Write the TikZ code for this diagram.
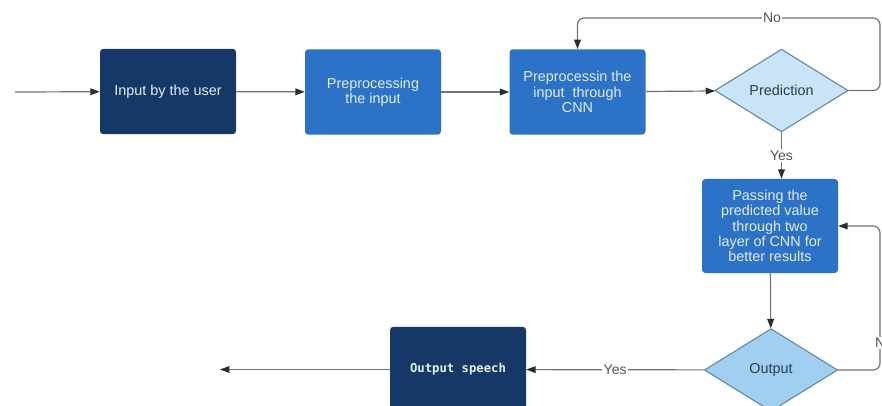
\documentclass[tikz,border=0pt]{standalone}
\usepackage{fontspec}
\setmainfont{Liberation Sans}
\newfontfamily\speechfont{DejaVu Sans Mono}
\usepackage{xcolor}
\usetikzlibrary{shapes.geometric,arrows.meta}

\definecolor{navy}{RGB}{22,56,102}
\definecolor{midblue}{RGB}{44,114,198}
\definecolor{paleblue}{RGB}{200,228,246}
\definecolor{skyblue}{RGB}{160,207,240}
\definecolor{edgeblue}{RGB}{92,135,170}
\definecolor{boxtext}{RGB}{228,236,246}
\definecolor{darktext}{RGB}{45,60,80}
\definecolor{linegray}{RGB}{115,115,115}
\definecolor{tipgray}{RGB}{45,45,45}
\definecolor{labelgray}{RGB}{85,85,85}

\begin{document}
\begin{tikzpicture}[x=0.75pt, y=-0.75pt,
    box/.style={rectangle, rounded corners=2.5pt, minimum width=102pt, minimum height=64pt,
        align=center, text=boxtext, inner sep=2pt, font=\fontsize{10.8}{11.4}\selectfont},
    darkbox/.style={box, fill=navy},
    bluebox/.style={box, fill=midblue},
    decision/.style={diamond, draw=edgeblue, line width=0.8pt, aspect=1.6, inner sep=0pt,
        minimum width=100pt, minimum height=62pt, text=darktext, font=\fontsize{10.8}{12}\selectfont},
    flow/.style={draw=linegray, line width=0.9pt, -{Triangle[length=7pt,width=5pt,color=tipgray]}},
    lbl/.style={fill=white, text=labelgray, inner sep=1pt, font=\fontsize{10.5}{12}\selectfont}]
    % page
    \path[fill=white, use as bounding box] (0,0) rectangle (882,406);
    % steps
    \node[darkbox] (user) at (168,91.5) {Input by the user};
    \node[bluebox] (prep) at (373,92) {Preprocessing\\the input};
    \node[bluebox] (cnn) at (577.5,92) {Preprocessin the\\input\ \ through\\CNN};
    \node[decision, fill=paleblue] (pred) at (781.5,90.5) {Prediction};
    \node[bluebox, minimum height=70.5pt] (pass) at (770,226)
        {Passing the\\predicted value\\through two\\layer of CNN for\\better results};
    \node[decision, fill=skyblue] (outd) at (771,370) {Output};
    \node[darkbox, font=\speechfont\bfseries\fontsize{9.2}{11}\selectfont] (speech) at (458,369.5) {Output speech};
    % free ends and bends
    \coordinate (start) at (15,92);
    \coordinate (finish) at (220,369.5);
    \coordinate (noup) at (880,18);
    \coordinate (noback) at (880,226);
    % connectors
    \draw[flow] (start) -- (user);
    \draw[flow] (user) -- (prep);
    \draw[flow] (prep) -- (cnn);
    \draw[flow] (cnn) -- (pred);
    \draw[flow, rounded corners=5pt] (pred.east) -| (noup) -| (cnn.north);
    \node[lbl] (noone) at (772,18) {No};
    \draw[flow] (pred.south) -- node[lbl] {Yes} (pred.south |- pass.north);
    \draw[flow] (pass) -- (outd);
    \draw[flow, rounded corners=5pt] (outd.east) -| (noback) -- (pass.east);
    \node[lbl] (notwo) at (884,343) {No};
    \draw[flow] (outd) -- node[lbl] {Yes} (speech);
    \draw[flow] (speech) -- (finish);
\end{tikzpicture}
\end{document}
